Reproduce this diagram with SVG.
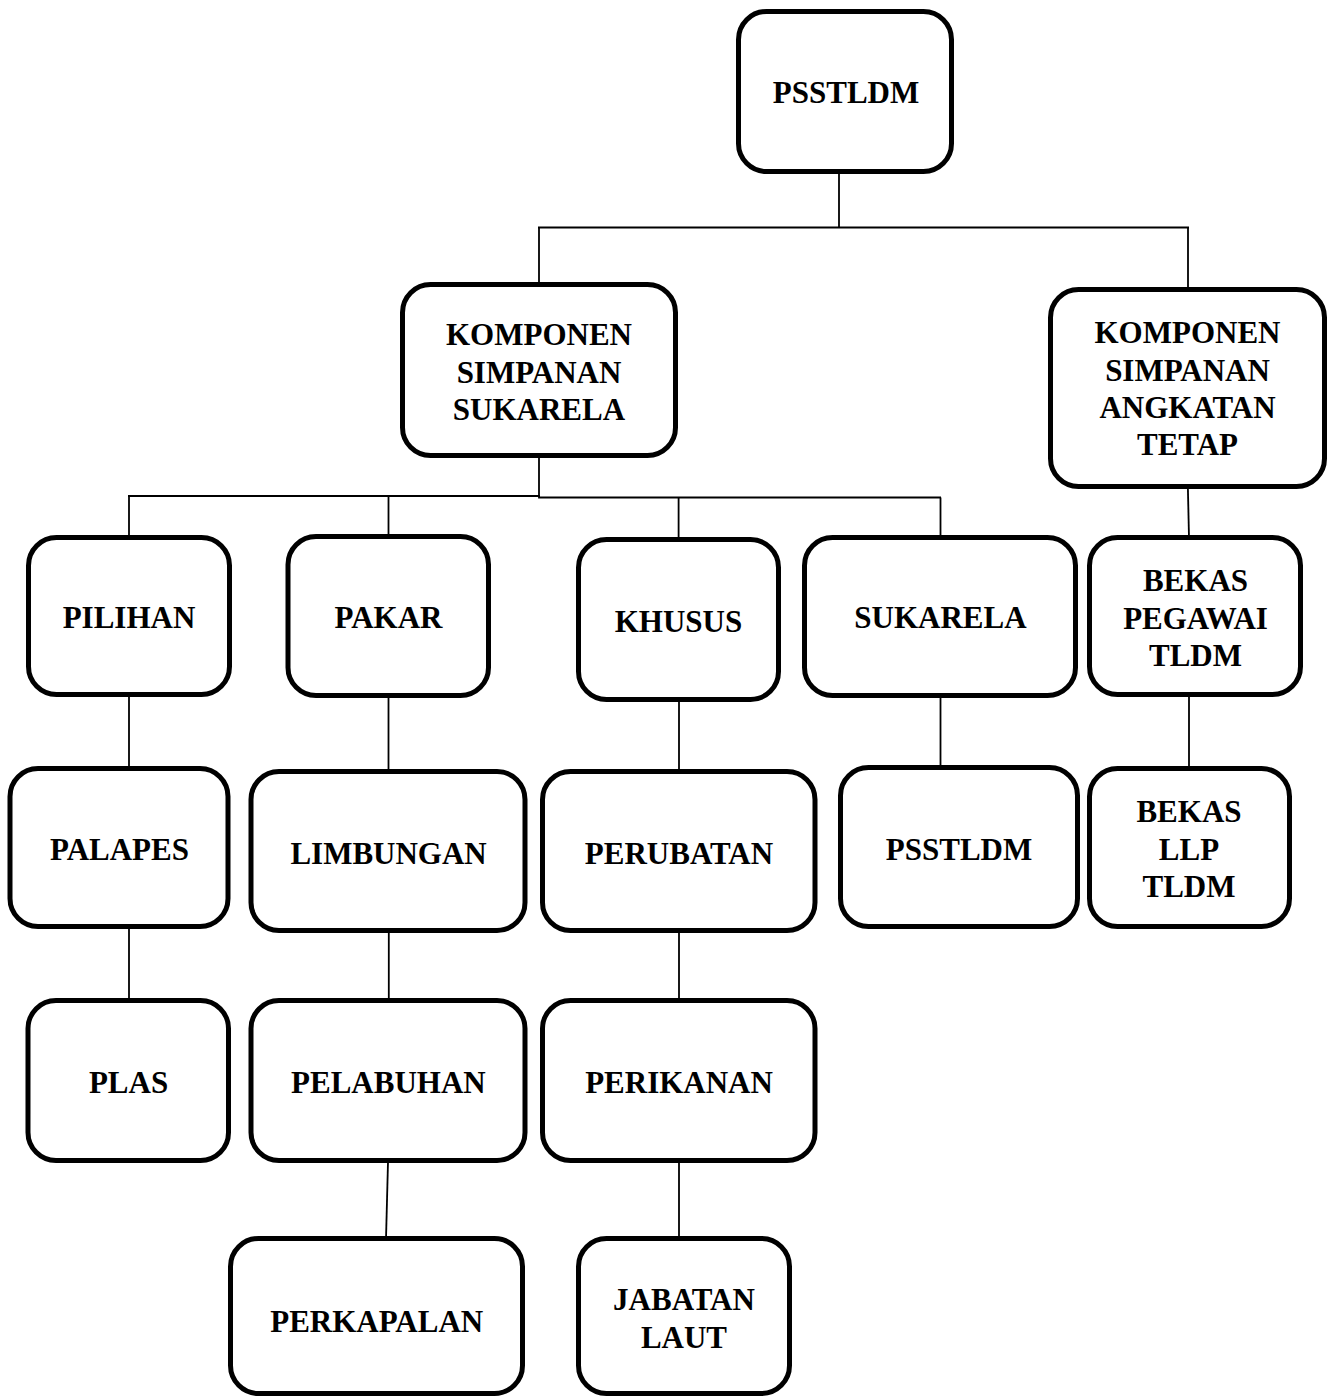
<svg xmlns="http://www.w3.org/2000/svg" width="1336" height="1396" viewBox="0 0 1336 1396">
<style>
.box{fill:#fff;stroke:#000;stroke-width:5}
.t{font-family:"Liberation Serif","Times New Roman",serif;font-weight:bold;font-size:31px;fill:#000;text-anchor:middle}
.c{stroke:#000;stroke-width:1.8;fill:none}
</style>
<rect width="1336" height="1396" fill="#fff"/>
<g id="connectors">
<line class="c" x1="839" y1="172" x2="839" y2="227.5"/>
<line class="c" x1="538" y1="227.5" x2="1189" y2="227.5"/>
<line class="c" x1="539" y1="227.5" x2="539" y2="284"/>
<line class="c" x1="1188" y1="227.5" x2="1188" y2="290"/>
<line class="c" x1="539" y1="457" x2="539" y2="497"/>
<line class="c" x1="128" y1="496" x2="539.9" y2="496"/>
<line class="c" x1="538.1" y1="497.5" x2="941" y2="497.5"/>
<line class="c" x1="129" y1="496" x2="129" y2="538"/>
<line class="c" x1="388.5" y1="496" x2="388.5" y2="537"/>
<line class="c" x1="678.6" y1="497.5" x2="678.6" y2="540"/>
<line class="c" x1="940.5" y1="497.5" x2="940.5" y2="538"/>
<line class="c" x1="1187.5" y1="470" x2="1189" y2="538"/>
<line class="c" x1="129" y1="696" x2="129" y2="769"/>
<line class="c" x1="388.5" y1="697" x2="388.5" y2="772"/>
<line class="c" x1="679" y1="701" x2="679" y2="772"/>
<line class="c" x1="940.5" y1="697" x2="940.5" y2="768"/>
<line class="c" x1="1189" y1="696" x2="1189" y2="769"/>
<line class="c" x1="129" y1="928" x2="129" y2="1001"/>
<line class="c" x1="388.8" y1="932" x2="388.8" y2="1001"/>
<line class="c" x1="679" y1="932" x2="679" y2="1001"/>
<line class="c" x1="388" y1="1162" x2="386" y2="1239"/>
<line class="c" x1="679" y1="1162" x2="679" y2="1239"/>
</g>
<g id="n1"><rect class="box" x="738.5" y="11.5" width="213" height="160" rx="28"/><text class="t" x="846" y="103">PSSTLDM</text></g>
<g id="n2"><rect class="box" x="402.5" y="284.5" width="273" height="171" rx="28"/><text class="t" x="539" y="345">KOMPONEN</text><text class="t" x="539" y="383">SIMPANAN</text><text class="t" x="539" y="420">SUKARELA</text></g>
<g id="n3"><rect class="box" x="1050.5" y="289.5" width="274" height="197" rx="28"/><text class="t" x="1187.5" y="343">KOMPONEN</text><text class="t" x="1187.5" y="381">SIMPANAN</text><text class="t" x="1187.5" y="418">ANGKATAN</text><text class="t" x="1187.5" y="455">TETAP</text></g>
<g id="n4"><rect class="box" x="28.5" y="537.5" width="201" height="157" rx="28"/><text class="t" x="129" y="628">PILIHAN</text></g>
<g id="n5"><rect class="box" x="288" y="536.5" width="200.5" height="159" rx="28"/><text class="t" x="388.5" y="628">PAKAR</text></g>
<g id="n6"><rect class="box" x="578.5" y="539.5" width="200" height="160" rx="28"/><text class="t" x="678.5" y="632">KHUSUS</text></g>
<g id="n7"><rect class="box" x="804.5" y="537.5" width="271" height="158" rx="28"/><text class="t" x="940.5" y="628">SUKARELA</text></g>
<g id="n8"><rect class="box" x="1089.5" y="537.5" width="211" height="157" rx="28"/><text class="t" x="1195.5" y="591">BEKAS</text><text class="t" x="1195.5" y="628.5">PEGAWAI</text><text class="t" x="1195.5" y="666">TLDM</text></g>
<g id="n9"><rect class="box" x="10" y="768.5" width="218" height="158" rx="28"/><text class="t" x="119.5" y="860">PALAPES</text></g>
<g id="n10"><rect class="box" x="251" y="771.5" width="274" height="159" rx="28"/><text class="t" x="388.6" y="864">LIMBUNGAN</text></g>
<g id="n11"><rect class="box" x="542.5" y="771.5" width="272.5" height="159" rx="28"/><text class="t" x="679" y="864">PERUBATAN</text></g>
<g id="n12"><rect class="box" x="840.5" y="767.5" width="237" height="159" rx="28"/><text class="t" x="959" y="860">PSSTLDM</text></g>
<g id="n13"><rect class="box" x="1089.5" y="768.5" width="200" height="158" rx="28"/><text class="t" x="1189" y="822">BEKAS</text><text class="t" x="1189" y="860">LLP</text><text class="t" x="1189" y="897">TLDM</text></g>
<g id="n14"><rect class="box" x="28" y="1000.5" width="200.5" height="160" rx="28"/><text class="t" x="128.5" y="1093">PLAS</text></g>
<g id="n15"><rect class="box" x="251" y="1000.5" width="274" height="160" rx="28"/><text class="t" x="388.4" y="1093">PELABUHAN</text></g>
<g id="n16"><rect class="box" x="542.5" y="1000.5" width="272.5" height="160" rx="28"/><text class="t" x="679" y="1093">PERIKANAN</text></g>
<g id="n17"><rect class="box" x="230.5" y="1238.5" width="292" height="155" rx="28"/><text class="t" x="376.7" y="1332">PERKAPALAN</text></g>
<g id="n18"><rect class="box" x="578.5" y="1238.5" width="211" height="155" rx="28"/><text class="t" x="684" y="1310">JABATAN</text><text class="t" x="684" y="1348">LAUT</text></g>
</svg>
